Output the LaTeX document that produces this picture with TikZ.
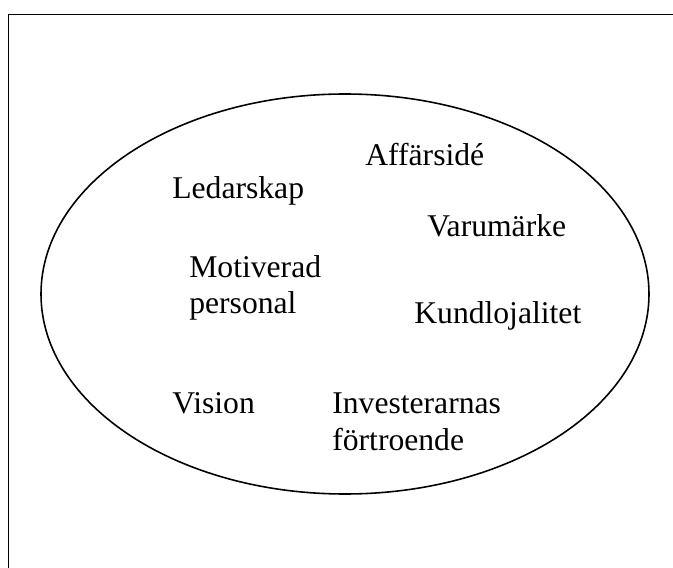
\documentclass[tikz,border=0pt]{standalone}
\usepackage{fontspec}
\setmainfont{Liberation Serif}
\usetikzlibrary{positioning}

\tikzset{
  word/.style={anchor=base west, inner sep=0pt, font=\fontsize{18}{20.5}\selectfont},
  twoline/.style={word, align=left}
}

\begin{document}
\begin{tikzpicture}[x=0.2mm, y=-0.2mm]
			\useasboundingbox (0, 0) rectangle (673, 568);
			\clip (0, 0) rectangle (673, 568);
			
			\draw[line width=1.1pt] (8.5, 14.5) rectangle (700, 600);
			\draw[line width=0.9pt] (345, 294) ellipse [x radius=304, y radius=200];
			
			% base of a two-line node is its last line
			\node[word] (ledarskap) at (172, 198) {Ledarskap};
			\node[word] (affarside) at (365, 166) {Affärsidé};
			\node[word] (varumarke) at (427, 237) {Varumärke};
			\node[twoline] (personal) at (189, 313.5) {Motiverad\\personal};
			\node[word] (kundlojal) at (414, 324) {Kundlojalitet};
			\node[word] (vision) at (172, 413) {Vision};
			\node[twoline] (investerare) at (332, 450) {Investerarnas\\förtroende};
		\end{tikzpicture}
\end{document}
